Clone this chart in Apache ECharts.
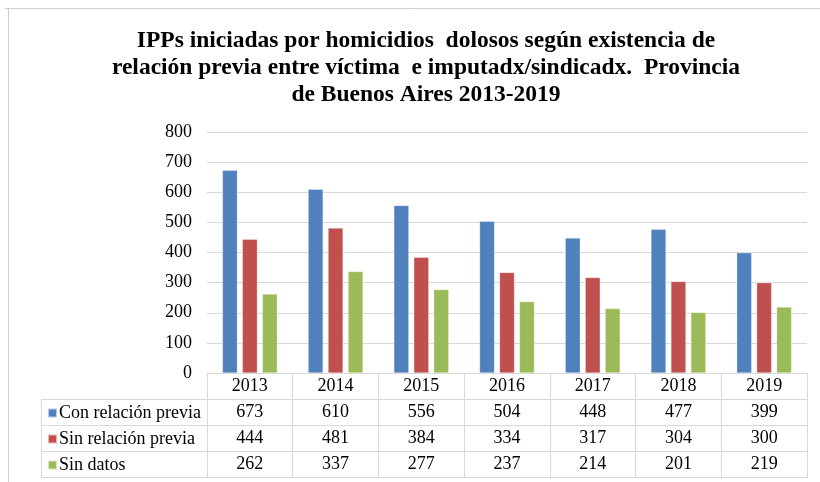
<!DOCTYPE html>
<html><head><meta charset="utf-8">
<script src="https://cdn.jsdelivr.net/npm/echarts@6/dist/echarts.min.js"></script>
<style>html,body{margin:0;padding:0;background:#fff}#c{width:820px;height:482px}</style>
</head><body><div id="c"></div>
<script>
const titleText = 'IPPs iniciadas por homicidios  dolosos según existencia de\nrelación previa entre víctima  e imputadx/sindicadx.  Provincia\nde Buenos Aires 2013-2019';
const years = ['2013','2014','2015','2016','2017','2018','2019'];
const seriesNames = ['Con relación previa','Sin relación previa','Sin datos'];
const conRelacion = [673,610,556,504,448,477,399];
const sinRelacion = [444,481,384,334,317,304,300];
const sinDatos = [262,337,277,237,214,201,219];
const yTicks = [0,100,200,300,400,500,600,700,800];

const colors = ['#4F81BD','#C0504D','#9BBB59'];
const values = [conRelacion, sinRelacion, sinDatos];
const font = 'Liberation Serif, Times New Roman, serif';
const gridColor = '#D9D9D9';

const chart = echarts.init(document.getElementById('c'), null, {renderer:'canvas'});
const GL = 207, GR = 13, GT = 132, GB = 109;
const rowH = 26;
const tableLeft = 41;

const option = {
  animation:false,
  color: colors,
  title: {
    text: titleText, left: 421, textAlign:'center', top: 22,
    textStyle:{fontFamily:font, fontWeight:'bold', fontSize:23.5, lineHeight:27, color:'#000'}
  },
  legend: {
    orient:'vertical', left: 47, top: 404, height: 76, padding: 0, itemGap: 8, itemWidth: 9, itemHeight: 9, icon:'rect',
    data: seriesNames,
    textStyle:{fontFamily:font, fontSize:18, color:'#000', padding:[0,0,0,-3], lineHeight:18},
    selectedMode:false
  },
  grid: {left: GL, right: GR, top: GT, bottom: GB},
  xAxis: {
    type:'category', data: years,
    axisLine:{show:true, lineStyle:{color:gridColor, width:1}},
    axisTick:{show:true, length: rowH*4+1, interval:0, lineStyle:{color:gridColor}},
    axisLabel:{
      interval:0, margin: 0, fontFamily:font, fontSize:18, color:'#000', lineHeight:rowH,
      formatter: (v, i) => [v, conRelacion[i], sinRelacion[i], sinDatos[i]].join('\n'),
      verticalAlign:'top'
    }
  },
  yAxis: {
    type:'value', min: yTicks[0], max: yTicks[yTicks.length-1], interval: 100,
    axisLine:{show:false}, axisTick:{show:false},
    splitLine:{lineStyle:{color:gridColor, width:1}},
    axisLabel:{fontFamily:font, fontSize:18, color:'#000', margin:15}
  },
  series: seriesNames.map((n, k) => ({
    name:n, type:'bar', data: values[k], barWidth: 15, barGap:'33%',
    itemStyle:{color: colors[k], borderColor:'rgba(255,255,255,0.6)', borderWidth:0.5}
  }))
};
chart.setOption(option);

// table borders derived from the axis geometry
const x1 = 820 - GR, y0 = chart.convertToPixel({yAxisIndex:0}, 0);
const lines = [];
for (let r = 1; r <= 4; r++) {
  const y = Math.round(y0 + r*rowH) + 0.5;
  lines.push({type:'line', shape:{x1: tableLeft, y1:y, x2:x1, y2:y}, style:{stroke:gridColor, lineWidth:1}});
}
lines.push({type:'line', shape:{x1: tableLeft+0.5, y1: y0+rowH, x2: tableLeft+0.5, y2: y0+4*rowH+1}, style:{stroke:gridColor, lineWidth:1}});
// outer frame (top and left edges)
lines.push({type:'line', shape:{x1:5, y1:8.5, x2:820, y2:8.5}, style:{stroke:'#D0D0D0', lineWidth:1}});
lines.push({type:'line', shape:{x1:8.5, y1:8, x2:8.5, y2:482}, style:{stroke:'#D0D0D0', lineWidth:1}});
chart.setOption({graphic: lines});
</script></body></html>
